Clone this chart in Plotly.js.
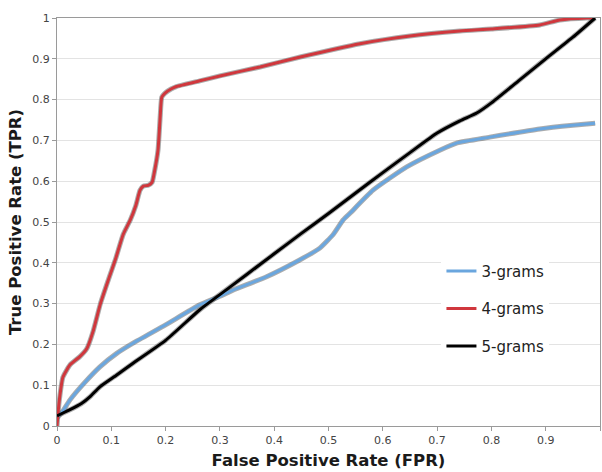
<!DOCTYPE html>
<html>
<head>
<meta charset="utf-8">
<script src="https://cdn.plot.ly/plotly-3.0.1.min.js"></script>
<style>html,body{margin:0;padding:0;background:#fff;}#chart{width:602px;height:472px;}</style>
</head>
<body>
<div id="chart"></div>
<script>
// 3-grams
const fpr3 = [0, 0.01, 0.024, 0.05, 0.079, 0.11, 0.14, 0.2, 0.263, 0.3, 0.324, 0.386, 0.447, 0.484, 0.509, 0.527, 0.54, 0.582, 0.644, 0.705, 0.737, 0.797, 0.889, 0.95, 0.991];
const tpr3 = [0.02, 0.035, 0.064, 0.105, 0.145, 0.178, 0.203, 0.248, 0.297, 0.318, 0.333, 0.366, 0.407, 0.436, 0.47, 0.505, 0.522, 0.578, 0.635, 0.676, 0.694, 0.708, 0.728, 0.737, 0.742];
// 4-grams
const fpr4 = [0, 0.004, 0.011, 0.024, 0.042, 0.055, 0.066, 0.08, 0.095, 0.108, 0.122, 0.135, 0.145, 0.153, 0.159, 0.168, 0.175, 0.18, 0.186, 0.19, 0.193, 0.199, 0.21, 0.22, 0.263, 0.3, 0.374, 0.45, 0.558, 0.65, 0.742, 0.8, 0.889, 0.926, 0.976, 0.99];
const tpr4 = [0, 0.06, 0.12, 0.15, 0.17, 0.19, 0.23, 0.3, 0.36, 0.41, 0.47, 0.505, 0.54, 0.578, 0.588, 0.59, 0.597, 0.627, 0.676, 0.757, 0.806, 0.816, 0.826, 0.832, 0.846, 0.858, 0.88, 0.905, 0.937, 0.956, 0.968, 0.973, 0.983, 0.995, 1.0, 1.0];
// 5-grams
const fpr5 = [0, 0.024, 0.045, 0.061, 0.079, 0.11, 0.14, 0.2, 0.263, 0.3, 0.35, 0.4, 0.45, 0.5, 0.55, 0.6, 0.65, 0.7, 0.742, 0.773, 0.8, 0.85, 0.9, 0.95, 0.991];
const tpr5 = [0.025, 0.04, 0.055, 0.072, 0.096, 0.125, 0.154, 0.21, 0.285, 0.322, 0.372, 0.422, 0.472, 0.521, 0.571, 0.621, 0.67, 0.718, 0.748, 0.767, 0.792, 0.846, 0.9, 0.953, 1.0];

const seriesNames = ['3-grams', '4-grams', '5-grams'];
const seriesColors = ['#6aa6de', '#d0373d', '#000000'];
const xs = [fpr3, fpr4, fpr5];
const ys = [tpr3, tpr4, tpr5];

const traces = [];
// soft shadow underlays
for (let i = 0; i < 3; i++) {
  traces.push({
    x: xs[i], y: ys[i], type: 'scatter', mode: 'lines',
    line: {color: 'rgba(70,70,70,0.45)', width: 5, shape: 'spline', smoothing: 0.5},
    showlegend: false, hoverinfo: 'skip'
  });
}
for (let i = 0; i < 3; i++) {
  traces.push({
    x: xs[i], y: ys[i], type: 'scatter', mode: 'lines', name: seriesNames[i],
    legendgroup: 'g' + i,
    line: {color: seriesColors[i], width: 3, shape: 'spline', smoothing: 0.5}
  });
}

const tickFont = {family: 'DejaVu Sans, Verdana, sans-serif', size: 11, color: '#444'};
const titleFont = {family: 'DejaVu Sans, Verdana, sans-serif', size: 16.5, color: '#1a1a1a', weight: 'bold'};

const layout = {
  width: 602, height: 472,
  margin: {l: 57, r: 2, t: 18, b: 46},
  paper_bgcolor: '#fff', plot_bgcolor: '#fff',
  showlegend: true,
  legend: {
    x: 0.708, y: 0.42, xanchor: 'left', yanchor: 'top',
    bgcolor: '#fff', borderwidth: 0,
    font: {family: 'DejaVu Sans, Verdana, sans-serif', size: 15, color: '#222'},
    traceorder: 'grouped', tracegroupgap: 15
  },
  xaxis: {
    range: [0, 1], dtick: 0.1, tick0: 0,
    showgrid: false, zeroline: false,
    showline: true, linecolor: '#9a9a9a', linewidth: 1, mirror: true,
    ticks: 'outside', ticklen: 4, tickcolor: '#9a9a9a',
    tickfont: tickFont,
    title: {text: 'False Positive Rate (FPR)', font: titleFont, standoff: 8}
  },
  yaxis: {
    range: [0, 1], dtick: 0.1, tick0: 0,
    showgrid: true, gridcolor: '#e3e3e3', gridwidth: 1, zeroline: false,
    showline: true, linecolor: '#9a9a9a', linewidth: 1, mirror: true,
    ticks: 'outside', ticklen: 4, tickcolor: '#9a9a9a',
    tickfont: tickFont,
    title: {text: 'True Positive Rate (TPR)', font: titleFont, standoff: 6}
  }
};

Plotly.newPlot('chart', traces, layout, {displayModeBar: false, staticPlot: true});
</script>
</body>
</html>
